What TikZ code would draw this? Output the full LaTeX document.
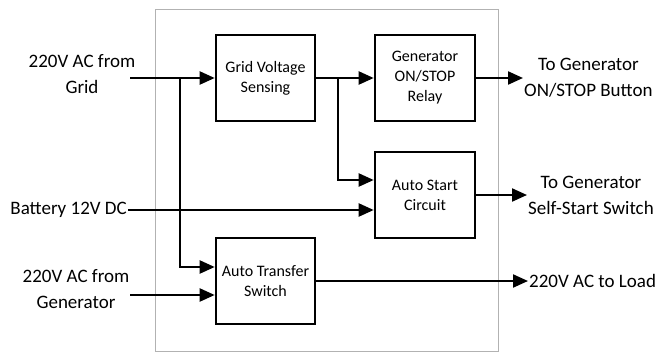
\documentclass[tikz,border=0pt]{standalone}
\usepackage{fontspec}
\setmainfont{Carlito}
\usetikzlibrary{arrows.meta}
\begin{document}
\begin{tikzpicture}[x=1pt, y=-1pt,
  blk/.style={draw, line width=2.6pt, minimum width=99pt, minimum height=86pt, align=center, font=\fontsize{16}{20}\selectfont, inner sep=2pt},
  lbl/.style={align=center, font=\fontsize{19}{26}\selectfont, inner sep=1pt},
  wire/.style={line width=2.2pt},
  arr/.style={wire, -{Triangle[length=15pt,width=13pt]}}]
\useasboundingbox (0,0) rectangle (662,354);
% controller housing
\draw[black!30, line width=1pt] (155,9) rectangle (498,351);
% blocks
\node[blk] (gvs) at (265.5,78) {Grid Voltage\\Sensing};
\node[blk, minimum width=100pt] (relay) at (425,78) {Generator\\ON/STOP\\Relay};
\node[blk, minimum width=100pt] (asc) at (425,195) {Auto Start\\Circuit};
\node[blk] (ats) at (265.5,281) {Auto Transfer\\Switch};
% inputs
\node[lbl] (gridin) at (82,74) {220V AC from\\Grid};
\node[lbl] (genin) at (76,289) {220V AC from\\Generator};
\node[lbl, anchor=east] (batt) at (128,210) {Battery 12V DC};
\coordinate (gridsrc) at (130,78);
\coordinate (gensrc) at (130,295);
\coordinate (j1) at (180,78);
\coordinate (j2) at (338,78);
% outputs
\node[lbl, anchor=west] (out1) at (523,78) {To Generator\\ON/STOP Button};
\node[lbl, anchor=west] (out2) at (527,195) {To Generator\\Self-Start Switch};
\node[lbl, anchor=west] (out3) at (528,281) {220V AC to Load};
% connections
\draw[arr] (gridsrc) -- (gvs.west);
\draw[arr] (j1) |- ([yshift=14pt]ats.west);
\draw[arr] (gensrc) -- ([yshift=-14pt]ats.west);
\draw[arr] (gvs.east) -- (relay.west);
\draw[arr] (j2) |- ([yshift=15pt]asc.west);
\draw[arr] (batt.east) -- ([yshift=-15pt]asc.west);
\draw[arr] (relay.east) -- (out1.west);
\draw[arr] (asc.east) -- (out2.west);
\draw[arr] (ats.east) -- (out3.west);
\end{tikzpicture}
\end{document}
